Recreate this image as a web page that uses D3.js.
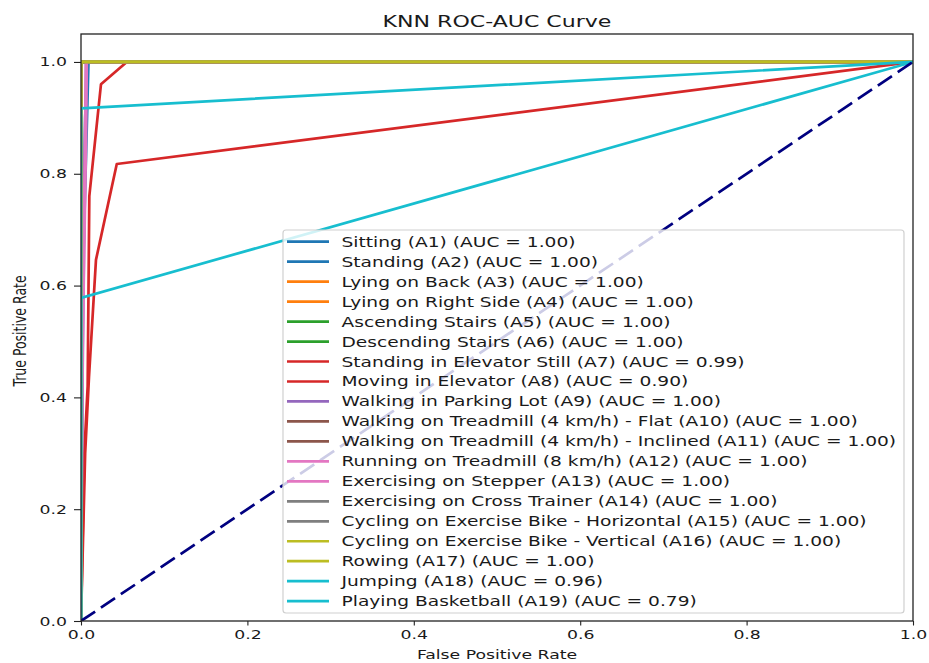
<!DOCTYPE html>
<html><head><meta charset="utf-8">
<script src="https://cdn.jsdelivr.net/npm/d3@7"></script>
<style>
body{margin:0;background:#fff}
svg{display:block}
text{font-family:"DejaVu Sans",sans-serif;fill:#1a1a1a}
</style>
</head><body><svg id="chart" width="929" height="663"></svg>
<script>
// ---- data ----
const activities = ["Sitting","Standing","Lying on Back","Lying on Right Side","Ascending Stairs","Descending Stairs",
  "Standing in Elevator Still","Moving in Elevator","Walking in Parking Lot","Walking on Treadmill (4 km/h) - Flat",
  "Walking on Treadmill (4 km/h) - Inclined","Running on Treadmill (8 km/h)","Exercising on Stepper",
  "Exercising on Cross Trainer","Cycling on Exercise Bike - Horizontal","Cycling on Exercise Bike - Vertical",
  "Rowing","Jumping","Playing Basketball"];
const activityCodes = ["A1","A2","A3","A4","A5","A6","A7","A8","A9","A10","A11","A12","A13","A14","A15","A16","A17","A18","A19"];
const aucScores = [1.00,1.00,1.00,1.00,1.00,1.00,0.99,0.90,1.00,1.00,1.00,1.00,1.00,1.00,1.00,1.00,1.00,0.96,0.79];
const seriesColors = ["#1f77b4","#1f77b4","#ff7f0e","#ff7f0e","#2ca02c","#2ca02c","#d62728","#d62728","#9467bd",
  "#8c564b","#8c564b","#e377c2","#e377c2","#7f7f7f","#7f7f7f","#bcbd22","#bcbd22","#17becf","#17becf"];
const fprPoints = [
  [0,0.001,0.005,0.008,1],
  [0,0.002,0.009,1],
  [0,0,0.001,1],
  [0,0,1],
  [0,0,1],
  [0,0,1],
  [0,0.004,0.008,0.010,0.024,0.055,1],
  [0,0.005,0.0096,0.018,0.043,1],
  [0,0.002,0.006,1],
  [0,0,1],
  [0,0,1],
  [0,0.001,0.006,0.007,1],
  [0,0.002,0.006,1],
  [0,0,1],
  [0,0,1],
  [0,0,1],
  [0,0,1],
  [0,0,1],
  [0,0,1]
];
const tprPoints = [
  [0,0.5,0.9,1,1],
  [0,0.6,1,1],
  [0,0.99,1,1],
  [0,1,1],
  [0,1,1],
  [0,1,1],
  [0,0.30,0.42,0.76,0.96,1,1],
  [0,0.30,0.436,0.646,0.8175,1],
  [0,0.45,1,1],
  [0,1,1],
  [0,1,1],
  [0,0.4,0.85,1,1],
  [0,0.55,1,1],
  [0,1,1],
  [0,1,1],
  [0,1,1],
  [0,1,1],
  [0,0.917,1],
  [0,0.578,1]
];
const chanceLine = [[0,0],[1,1]];
const xTickValues = [0,0.2,0.4,0.6,0.8,1.0];
const yTickValues = [0,0.2,0.4,0.6,0.8,1.0];

// ---- layout ----
const SX = 1.38;
const svg = d3.select("#chart");
const x = d3.scaleLinear().domain([0,1]).range([81,913]);
const y = d3.scaleLinear().domain([0,1.05]).range([621,34]);

function addText(g, px, py, str, size, anchor, rotate){
  return g.append("text")
    .attr("transform", `translate(${px},${py}) scale(${SX},1)` + (rotate ? " rotate(-90)" : ""))
    .attr("text-anchor", anchor)
    .style("font-size", size + "px")
    .text(str);
}

svg.append("defs").append("clipPath").attr("id","clip")
  .append("rect").attr("x",81).attr("y",34).attr("width",832).attr("height",587);

const plot = svg.append("g").attr("clip-path","url(#clip)");
const line = d3.line().x(d => x(d[0])).y(d => y(d[1]));

activities.forEach((name,i) => {
  const pts = fprPoints[i].map((f,j) => [f, tprPoints[i][j]]);
  plot.append("path").datum(pts)
    .attr("d", line)
    .attr("fill","none")
    .attr("stroke", seriesColors[i])
    .attr("stroke-width", 2.7)
    .attr("stroke-linejoin","round");
});

plot.append("path").datum(chanceLine)
  .attr("d", line).attr("fill","none")
  .attr("stroke","#000080").attr("stroke-width",2.7)
  .attr("stroke-dasharray","17,7");

// ---- axes ----
const xAxis = svg.append("g").attr("transform","translate(0,621)")
  .call(d3.axisBottom(x).tickValues(xTickValues).tickSize(4.5).tickSizeOuter(0).tickFormat(d3.format(".1f")));
const yAxis = svg.append("g").attr("transform","translate(81,0)")
  .call(d3.axisLeft(y).tickValues(yTickValues).tickSize(7).tickSizeOuter(0).tickFormat(d3.format(".1f")));
[xAxis,yAxis].forEach(a => {
  a.select(".domain").remove();
  a.selectAll(".tick line").attr("stroke","#222").attr("stroke-width",1.1);
  a.selectAll(".tick text").style("font-family","DejaVu Sans").style("font-size","12.5px").attr("fill","#1a1a1a");
});
xAxis.selectAll(".tick text").attr("y",9.2).attr("dy","0.71em")
  .attr("transform",`scale(${SX},1)`);
yAxis.selectAll(".tick text").attr("x",-14/SX).attr("dy","0.32em")
  .attr("transform",`scale(${SX},1)`);

// frame
svg.append("rect").attr("x",81).attr("y",34).attr("width",832).attr("height",587)
  .attr("fill","none").attr("stroke","#222").attr("stroke-width",1.3);

// ---- legend ----
const lg = svg.append("g");
lg.append("rect").attr("x",283).attr("y",230).attr("width",621).attr("height",383)
  .attr("rx",3).attr("fill","#fff").attr("fill-opacity",0.8)
  .attr("stroke","#d0d0d0").attr("stroke-width",1.2);
activities.forEach((name,i) => {
  const yc = 241.7 + i*19.97;
  lg.append("line").attr("x1",287).attr("x2",329).attr("y1",yc).attr("y2",yc)
    .attr("stroke",seriesColors[i]).attr("stroke-width",2.7);
  addText(lg, 341.5, yc+5, `${name} (${activityCodes[i]}) (AUC = ${aucScores[i].toFixed(2)})`, 13.5, "start");
});

// ---- titles ----
addText(svg, 497, 27, "KNN ROC-AUC Curve", 16, "middle");
addText(svg, 497, 658.5, "False Positive Rate", 12.5, "middle");
addText(svg, 26, 331, "True Positive Rate", 12.5, "middle", true);
</script>
</body></html>
